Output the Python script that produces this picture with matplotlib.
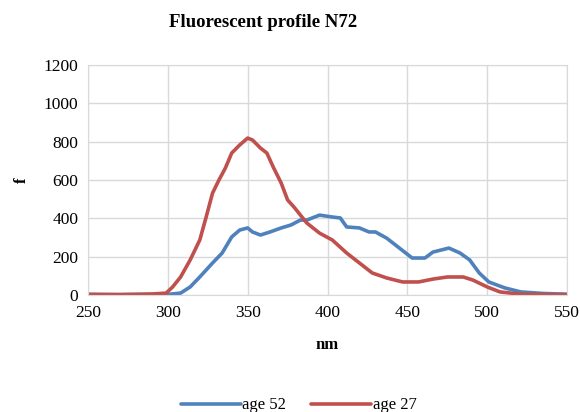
import matplotlib
matplotlib.use("Agg")
import matplotlib.pyplot as plt

title = "Fluorescent profile N72"
xlabel = "nm"
ylabel = "f"

nm_52 = [250, 270, 290, 300, 308, 314, 320, 328, 334, 340, 345, 350, 353, 358, 364, 371, 377, 383,
         387, 395, 403, 408, 412, 420, 426, 430, 437, 445, 453, 461, 466, 476, 483, 489, 495, 501,
         511, 521, 535, 550]
f_52 = [3, 2, 3, 3, 10, 42, 94, 167, 219, 303, 339, 350, 329, 313, 329, 350, 365, 391,
        391, 417, 407, 402, 355, 350, 329, 329, 297, 245, 193, 193, 224, 245, 219, 183, 115, 68,
        37, 16, 8, 4]

nm_27 = [250, 270, 290, 299, 303, 308, 314, 320, 324, 328, 332, 336, 340, 345, 350, 353, 358, 362,
         366, 371, 375, 379, 387, 395, 403, 412, 420, 428, 437, 447, 457, 466, 475, 485, 491, 500,
         508, 520, 535, 550]
f_27 = [3, 2, 5, 10, 42, 94, 183, 287, 407, 532, 600, 662, 741, 783, 819, 809, 767, 741,
        668, 584, 496, 459, 376, 323, 287, 219, 167, 115, 89, 68, 68, 83, 94, 94, 78, 42,
        16, 5, 3, 2]

xticks = [250, 300, 350, 400, 450, 500, 550]
yticks = [0, 200, 400, 600, 800, 1000, 1200]

plt.rcParams['font.family'] = ['Liberation Serif', 'DejaVu Serif']

fig = plt.figure(figsize=(5.8, 4.12), dpi=100)
ax = fig.add_axes([0.1517, 0.284, 0.826, 0.558])

ax.plot(nm_52, f_52, color='#4F81BD', lw=2.6, label='age 52', solid_capstyle='round')
ax.plot(nm_27, f_27, color='#C0504D', lw=2.6, label='age 27', solid_capstyle='round')

ax.set_xlim(250, 550)
ax.set_ylim(0, 1200)
ax.set_xticks(xticks)
ax.set_yticks(yticks)
ax.grid(True, color='#D9D9D9', lw=1)
ax.set_axisbelow(True)
for s in ax.spines.values():
    s.set_color('#D9D9D9')
ax.tick_params(length=0, labelsize=12.5, pad=7, colors='black')

fig.text(0.4535, 0.945, title, fontsize=13.5, fontweight='bold', ha='center', va='center')
ax.set_xlabel(xlabel, fontsize=12, fontweight='bold', labelpad=12)
ax.set_ylabel(ylabel, fontsize=12, fontweight='bold', rotation=90)
ax.yaxis.set_label_coords(-0.122, 0.5)

fig.legend(loc='center', bbox_to_anchor=(0.515, 0.016), ncol=2, frameon=False,
           fontsize=12, handlelength=3.6, handletextpad=0.1, columnspacing=1.5)

fig.savefig('out.png', dpi=100)
